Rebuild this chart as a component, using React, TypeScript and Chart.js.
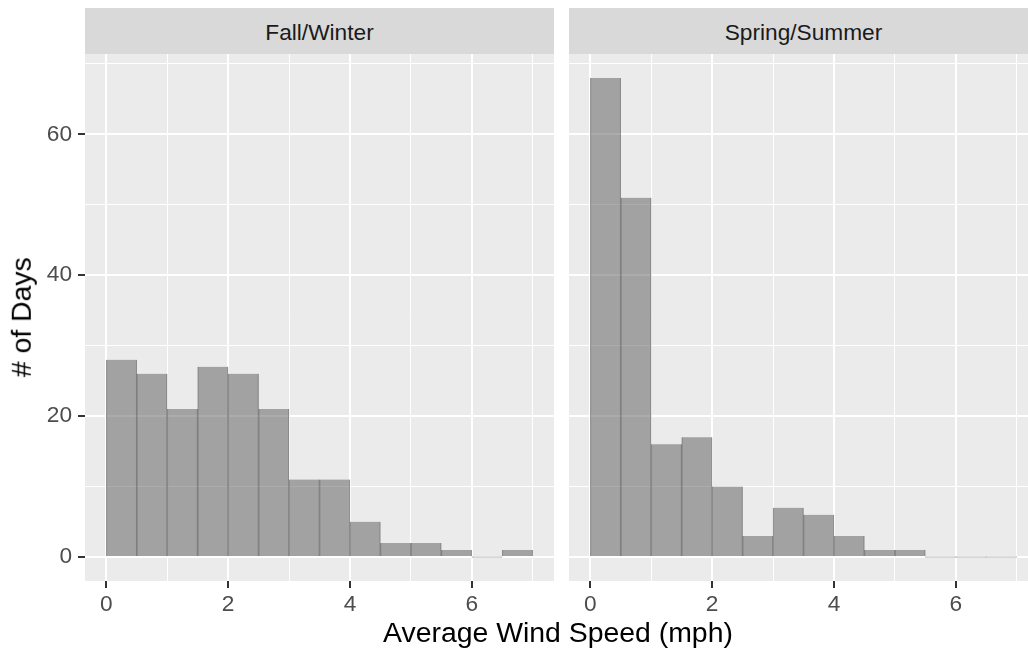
import { useEffect, useRef } from 'react';
import { Chart, registerables } from 'chart.js';

Chart.register(...registerables);

// Histogram bins (0.5 mph wide) and day counts per season
const binCenters = [0.25, 0.75, 1.25, 1.75, 2.25, 2.75, 3.25, 3.75, 4.25, 4.75, 5.25, 5.75, 6.25, 6.75];
const fallWinterDays = [28, 26, 21, 27, 26, 21, 11, 11, 5, 2, 2, 1, 0, 1];
const springSummerDays = [68, 51, 16, 17, 10, 3, 7, 6, 3, 1, 1, 0, 0, 0];
const panelTitles = ['Fall/Winter', 'Spring/Summer'];

// Grid positions; labelled (major) ones are every 2 on x and every 20 on y
const xTicks = [0, 1, 2, 3, 4, 5, 6, 7];
const yTicks = [0, 10, 20, 30, 40, 50, 60, 70];
const xMajorStep = 2;
const yMajorStep = 20;

const X_MIN = -0.35;
const X_MAX = 7.35;
const Y_MIN = -3.4;
const Y_MAX = 71.4;

// Layout (px)
const STRIP_TOP = 8;
const STRIP_H = 46;
const PANEL_TOP = STRIP_TOP + STRIP_H;
const PANEL_BOTTOM = 581;
const AXIS_W = 85;
const PANEL_W = 469;
const PANEL_GAP = 15;
const RIGHT_X = AXIS_W + PANEL_W + PANEL_GAP;
const CANVAS_H = 652 - PANEL_TOP;
const X_AXIS_H = CANVAS_H - (PANEL_BOTTOM - PANEL_TOP);

const FONT = '"Liberation Sans", Arial, Helvetica, sans-serif';
const TICK_SIZE = 22.7;
const TITLE_SIZE = 28.4;

const isMajor = (v: number, step: number) => Math.abs(v / step - Math.round(v / step)) < 1e-6;

const panelBackground = {
  id: 'panelBackground',
  beforeDraw(chart: any) {
    const { ctx, chartArea: a } = chart;
    ctx.save();
    ctx.fillStyle = '#EBEBEB';
    ctx.fillRect(a.left, a.top, a.right - a.left, a.bottom - a.top);
    ctx.restore();
  },
};

function zeroPadding(s: any) {
  s.paddingLeft = 0;
  s.paddingRight = 0;
  s.paddingTop = 0;
  s.paddingBottom = 0;
}

function buildConfig(counts: number[], showY: boolean): any {
  return {
    type: 'bar',
    data: {
      datasets: [
        {
          data: binCenters.map((x, i) => ({ x, y: counts[i] })),
          backgroundColor: 'rgba(89,89,89,0.5)',
          borderColor: 'rgba(70,70,70,0.45)',
          borderWidth: { left: 0.5, right: 0.5, top: 0, bottom: 0 },
          barPercentage: 1,
          categoryPercentage: 1,
          minBarLength: 1,
        },
      ],
    },
    options: {
      responsive: false,
      animation: false,
      devicePixelRatio: 1,
      layout: { padding: 0 },
      plugins: { legend: { display: false }, tooltip: { enabled: false } },
      scales: {
        x: {
          type: 'linear',
          min: X_MIN,
          max: X_MAX,
          bounds: 'data',
          offset: false,
          afterBuildTicks: (s: any) => {
            s.ticks = xTicks.map((value) => ({ value }));
          },
          afterFit: (s: any) => {
            s.height = X_AXIS_H;
            zeroPadding(s);
          },
          border: { display: false },
          grid: {
            offset: false,
            color: '#FFFFFF',
            lineWidth: (c: any) => (isMajor(c.tick.value, xMajorStep) ? 2 : 1),
            drawTicks: true,
            tickLength: 7,
            tickColor: (c: any) => (isMajor(c.tick.value, xMajorStep) ? '#333333' : 'rgba(0,0,0,0)'),
            tickWidth: (c: any) => (isMajor(c.tick.value, xMajorStep) ? 2 : 0),
          },
          ticks: {
            autoSkip: false,
            maxRotation: 0,
            minRotation: 0,
            padding: 3,
            color: '#4D4D4D',
            font: { family: FONT, size: TICK_SIZE },
            callback: (v: number) => (isMajor(v, xMajorStep) ? String(v) : ''),
          },
        },
        y: {
          type: 'linear',
          min: Y_MIN,
          max: Y_MAX,
          bounds: 'data',
          afterBuildTicks: (s: any) => {
            s.ticks = yTicks.map((value) => ({ value }));
          },
          afterFit: (s: any) => {
            s.width = showY ? AXIS_W : 0;
            zeroPadding(s);
          },
          border: { display: false },
          grid: {
            color: '#FFFFFF',
            lineWidth: (c: any) => (isMajor(c.tick.value, yMajorStep) ? 2 : 1),
            drawTicks: showY,
            tickLength: 7,
            tickColor: (c: any) => (isMajor(c.tick.value, yMajorStep) ? '#333333' : 'rgba(0,0,0,0)'),
            tickWidth: (c: any) => (isMajor(c.tick.value, yMajorStep) ? 2 : 0),
          },
          ticks: {
            display: showY,
            autoSkip: false,
            padding: 6,
            color: '#4D4D4D',
            font: { family: FONT, size: TICK_SIZE },
            callback: (v: number) => (isMajor(v, yMajorStep) ? String(v) : ''),
          },
        },
      },
    },
    plugins: [panelBackground],
  };
}

const stripStyle = (left: number): React.CSSProperties => ({
  position: 'absolute',
  left,
  top: STRIP_TOP,
  width: PANEL_W,
  height: STRIP_H,
  background: '#D9D9D9',
  color: '#1A1A1A',
  fontFamily: FONT,
  fontSize: TICK_SIZE,
  lineHeight: `${STRIP_H + 3}px`,
  textAlign: 'center',
  whiteSpace: 'nowrap',
});

export default function App() {
  const leftRef = useRef<HTMLCanvasElement>(null);
  const rightRef = useRef<HTMLCanvasElement>(null);

  useEffect(() => {
    const left = new Chart(leftRef.current as HTMLCanvasElement, buildConfig(fallWinterDays, true));
    const right = new Chart(rightRef.current as HTMLCanvasElement, buildConfig(springSummerDays, false));
    return () => {
      left.destroy();
      right.destroy();
    };
  }, []);

  return (
    <div
      style={{
        position: 'fixed',
        left: 0,
        top: 0,
        width: 1028,
        height: 652,
        overflow: 'hidden',
        background: '#FFFFFF',
      }}
    >
      <div style={stripStyle(AXIS_W)}>{panelTitles[0]}</div>
      <div style={stripStyle(RIGHT_X)}>{panelTitles[1]}</div>
      <canvas
        ref={leftRef}
        width={AXIS_W + PANEL_W}
        height={CANVAS_H}
        style={{ position: 'absolute', left: 0, top: PANEL_TOP, width: AXIS_W + PANEL_W, height: CANVAS_H }}
      />
      <canvas
        ref={rightRef}
        width={PANEL_W}
        height={CANVAS_H}
        style={{ position: 'absolute', left: RIGHT_X, top: PANEL_TOP, width: PANEL_W, height: CANVAS_H }}
      />
      <div
        style={{
          position: 'absolute',
          left: 558 - 250,
          top: 618,
          width: 500,
          height: TITLE_SIZE,
          lineHeight: `${TITLE_SIZE}px`,
          fontFamily: FONT,
          fontSize: TITLE_SIZE,
          color: '#000000',
          textAlign: 'center',
          whiteSpace: 'nowrap',
        }}
      >
        Average Wind Speed (mph)
      </div>
      <div
        style={{
          position: 'absolute',
          left: 20.5 - 150,
          top: (PANEL_TOP + PANEL_BOTTOM) / 2 - TITLE_SIZE / 2,
          width: 300,
          height: TITLE_SIZE,
          lineHeight: `${TITLE_SIZE}px`,
          fontFamily: FONT,
          fontSize: TITLE_SIZE,
          color: '#000000',
          textAlign: 'center',
          whiteSpace: 'nowrap',
          transform: 'rotate(-90deg)',
        }}
      >
        # of Days
      </div>
    </div>
  );
}
